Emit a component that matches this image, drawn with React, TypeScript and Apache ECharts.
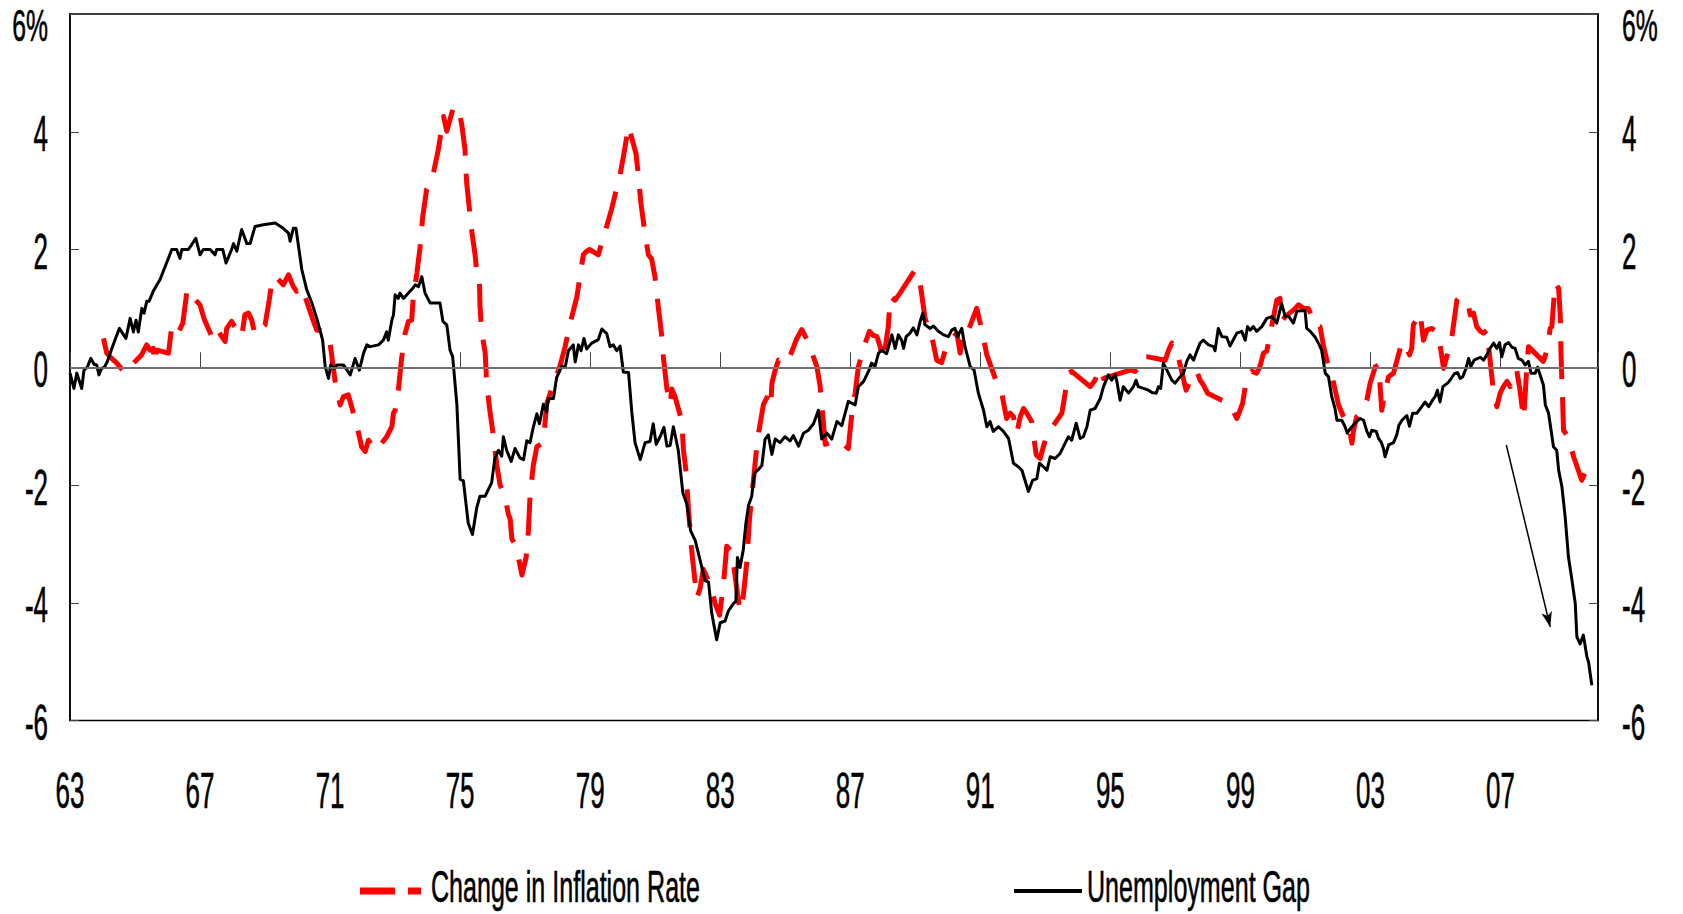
import React, { useEffect, useRef } from 'react';
import * as echarts from 'echarts';

// ---------- axes ----------
const BASE_YEAR = 1963;
const END_YEAR = 2010;
const yTickValues = [-6, -4, -2, 0, 2, 4, 6];
const yTickLabels = ['-6', '-4', '-2', '0', '2', '4', '6%'];
const xTickYears = [1963, 1967, 1971, 1975, 1979, 1983, 1987, 1991, 1995, 1999, 2003, 2007];
const xTickLabels = ['63', '67', '71', '75', '79', '83', '87', '91', '95', '99', '03', '07'];

const seriesNames = ['Change in Inflation Rate', 'Unemployment Gap'];

// ---------- Unemployment Gap (black) ----------
const gapYears = [
  1963.0, 1963.12, 1963.21, 1963.36, 1963.43, 1963.53, 1963.64, 1963.74, 1963.82, 1963.89, 1963.97,
  1964.06, 1964.15, 1964.23, 1964.38, 1964.52, 1964.72, 1964.85, 1964.95, 1965.03, 1965.1, 1965.21,
  1965.28, 1965.36, 1965.43, 1965.56, 1965.77, 1965.97, 1966.13, 1966.28, 1966.38, 1966.44, 1966.64,
  1966.74, 1966.87, 1967.0, 1967.1, 1967.31, 1967.46, 1967.51, 1967.7, 1967.8, 1967.97, 1968.03,
  1968.13, 1968.28, 1968.44, 1968.54, 1968.69, 1968.95, 1969.31, 1969.56, 1969.72, 1969.77, 1969.87,
  1969.95, 1970.03, 1970.13, 1970.28, 1970.44, 1970.59, 1970.69, 1970.77, 1970.85, 1970.95, 1971.02,
  1971.12, 1971.21, 1971.41, 1971.62, 1971.77, 1971.9, 1972.03, 1972.13, 1972.23, 1972.49, 1972.64,
  1972.74, 1972.79, 1972.9, 1972.95, 1973.0, 1973.1, 1973.15, 1973.26, 1973.41, 1973.51, 1973.62,
  1973.72, 1973.82, 1973.92, 1974.08, 1974.38, 1974.47, 1974.59, 1974.69, 1974.77, 1974.9, 1975.0,
  1975.1, 1975.25, 1975.38, 1975.51, 1975.61, 1975.77, 1975.97, 1976.07, 1976.18, 1976.28, 1976.33,
  1976.43, 1976.57, 1976.69, 1976.84, 1976.95, 1977.05, 1977.15, 1977.25, 1977.36, 1977.44, 1977.56,
  1977.66, 1977.71, 1977.87, 1977.97, 1978.13, 1978.23, 1978.33, 1978.48, 1978.54, 1978.64, 1978.72,
  1978.81, 1978.89, 1979.05, 1979.25, 1979.36, 1979.51, 1979.61, 1979.71, 1979.82, 1979.92, 1980.02,
  1980.18, 1980.28, 1980.38, 1980.54, 1980.69, 1980.84, 1980.94, 1981.03, 1981.15, 1981.27, 1981.36,
  1981.46, 1981.56, 1981.71, 1981.85, 1981.97, 1982.09, 1982.23, 1982.36, 1982.53, 1982.64, 1982.74,
  1982.89, 1983.0, 1983.15, 1983.25, 1983.41, 1983.48, 1983.53, 1983.61, 1983.71, 1983.79, 1983.87,
  1983.97, 1984.05, 1984.17, 1984.28, 1984.38, 1984.48, 1984.59, 1984.69, 1984.84, 1984.99, 1985.15,
  1985.25, 1985.41, 1985.56, 1985.71, 1985.87, 1986.02, 1986.12, 1986.28, 1986.43, 1986.59, 1986.74,
  1986.94, 1987.15, 1987.25, 1987.41, 1987.56, 1987.66, 1987.76, 1987.87, 1987.97, 1988.12, 1988.28,
  1988.38, 1988.48, 1988.58, 1988.64, 1988.72, 1988.84, 1988.94, 1989.05, 1989.15, 1989.23, 1989.3,
  1989.46, 1989.56, 1989.71, 1989.87, 1990.02, 1990.12, 1990.22, 1990.3, 1990.43, 1990.53, 1990.69,
  1990.81, 1990.94, 1991.1, 1991.2, 1991.3, 1991.4, 1991.56, 1991.71, 1991.87, 1992.02, 1992.17,
  1992.28, 1992.48, 1992.61, 1992.74, 1992.82, 1992.94, 1993.05, 1993.15, 1993.3, 1993.46, 1993.61,
  1993.71, 1993.81, 1993.95, 1994.07, 1994.17, 1994.28, 1994.38, 1994.53, 1994.69, 1994.79, 1994.94,
  1995.04, 1995.15, 1995.2, 1995.3, 1995.4, 1995.56, 1995.71, 1995.79, 1995.86, 1996.02, 1996.17,
  1996.28, 1996.41, 1996.48, 1996.55, 1996.63, 1996.74, 1996.89, 1996.99, 1997.15, 1997.25, 1997.35,
  1997.45, 1997.56, 1997.66, 1997.76, 1997.86, 1998.02, 1998.17, 1998.22, 1998.32, 1998.43, 1998.58,
  1998.68, 1998.89, 1999.04, 1999.15, 1999.22, 1999.3, 1999.4, 1999.5, 1999.66, 1999.81, 1999.97,
  2000.12, 2000.27, 2000.38, 2000.48, 2000.63, 2000.74, 2000.84, 2000.99, 2001.04, 2001.15, 2001.3,
  2001.4, 2001.5, 2001.61, 2001.71, 2001.81, 2001.91, 2001.97, 2002.12, 2002.22, 2002.29, 2002.38,
  2002.53, 2002.68, 2002.79, 2002.89, 2002.97, 2003.04, 2003.18, 2003.25, 2003.33, 2003.4, 2003.45,
  2003.56, 2003.71, 2003.81, 2003.88, 2003.97, 2004.12, 2004.2, 2004.3, 2004.43, 2004.58, 2004.68,
  2004.79, 2004.92, 2004.99, 2005.06, 2005.14, 2005.23, 2005.37, 2005.45, 2005.58, 2005.68, 2005.76,
  2005.84, 2005.94, 2006.02, 2006.09, 2006.19, 2006.38, 2006.48, 2006.58, 2006.68, 2006.79, 2006.89,
  2006.97, 2007.04, 2007.14, 2007.25, 2007.35, 2007.45, 2007.55, 2007.66, 2007.76, 2007.86, 2007.94,
  2008.07, 2008.14, 2008.22, 2008.32, 2008.38, 2008.48, 2008.63, 2008.73, 2008.79, 2008.89, 2008.99,
  2009.09, 2009.2, 2009.3, 2009.35, 2009.45, 2009.55, 2009.66, 2009.71, 2009.81,
];
const gapValues = [
  -0.1, -0.36, -0.1, -0.36, -0.05, 0.0, 0.15, 0.05, 0.04, -0.13, -0.02,
  0.0, 0.1, 0.23, 0.46, 0.66, 0.49, 0.83, 0.6, 0.8, 0.6, 1.0,
  0.92, 1.12, 1.12, 1.29, 1.49, 1.77, 2.0, 2.0, 1.85, 2.0, 2.0,
  2.08, 2.19, 1.91, 2.0, 2.0, 1.91, 2.0, 2.0, 1.77, 2.0, 2.1,
  1.97, 2.34, 2.1, 2.1, 2.39, 2.42, 2.45, 2.36, 2.28, 2.14, 2.36,
  2.36, 2.05, 1.66, 1.32, 1.09, 0.83, 0.63, 0.46, 0.01, -0.19, 0.04,
  -0.02, 0.04, 0.04, -0.13, 0.15, -0.05, 0.24, 0.38, 0.35, 0.38, 0.46,
  0.6, 0.46, 0.8, 0.89, 1.23, 1.17, 1.26, 1.17, 1.26, 1.32, 1.4,
  1.37, 1.54, 1.26, 1.09, 1.09, 0.78, 0.72, 0.29, 0.18, -0.63, -1.9,
  -1.93, -2.65, -2.84, -2.39, -2.19, -2.19, -1.96, -1.54, -1.41, -1.51, -1.18,
  -1.41, -1.6, -1.38, -1.54, -1.57, -1.25, -1.28, -1.02, -0.79, -0.96, -0.63,
  -0.76, -0.53, -0.53, -0.17, 0.02, 0.0, 0.28, 0.38, 0.09, 0.38, 0.28,
  0.49, 0.31, 0.41, 0.47, 0.65, 0.57, 0.35, 0.38, 0.28, 0.36, -0.08,
  -0.09, -0.76, -1.28, -1.57, -1.28, -1.26, -0.96, -1.31, -1.18, -1.02, -1.34,
  -1.33, -1.01, -1.41, -2.13, -2.32, -2.78, -2.94, -3.23, -3.62, -3.65, -4.18,
  -4.63, -4.34, -4.31, -4.14, -4.01, -3.98, -3.23, -3.4, -3.1, -2.65, -2.35,
  -2.19, -1.8, -1.74, -1.67, -1.22, -1.15, -1.48, -1.22, -1.28, -1.18, -1.25,
  -1.16, -1.34, -1.12, -1.07, -0.96, -0.73, -1.22, -1.12, -1.22, -0.92, -0.99,
  -0.58, -0.64, -0.33, -0.24, -0.07, 0.07, 0.01, 0.24, 0.29, 0.23, 0.55,
  0.32, 0.55, 0.46, 0.32, 0.52, 0.58, 0.67, 0.55, 0.78, 0.92, 0.72,
  0.66, 0.7, 0.61, 0.55, 0.52, 0.63, 0.66, 0.52, 0.66, 0.35, 0.01,
  -0.05, -0.44, -0.73, -1.01, -0.92, -1.09, -1.01, -1.09, -1.21, -1.63, -1.69,
  -1.75, -2.11, -1.92, -1.89, -1.63, -1.69, -1.75, -1.52, -1.55, -1.46, -1.29,
  -1.18, -1.24, -0.95, -1.21, -1.18, -1.01, -0.73, -0.7, -0.53, -0.33, -0.13,
  -0.22, -0.13, -0.24, -0.56, -0.33, -0.44, -0.33, -0.22, -0.33, -0.36, -0.39,
  -0.43, -0.44, -0.33, -0.36, 0.07, -0.05, -0.22, -0.27, -0.16, -0.1, 0.1,
  0.21, 0.12, 0.27, 0.41, 0.46, 0.38, 0.35, 0.28, 0.66, 0.52, 0.51,
  0.36, 0.58, 0.61, 0.46, 0.69, 0.63, 0.69, 0.61, 0.69, 0.83, 0.86,
  0.75, 1.08, 0.86, 0.87, 0.75, 0.95, 0.96, 0.96, 0.66, 0.61, 0.51,
  0.41, 0.29, -0.1, -0.16, -0.5, -0.7, -0.9, -0.9, -1.01, -1.12, -1.04,
  -0.95, -0.87, -0.9, -1.09, -1.18, -1.07, -1.09, -1.21, -1.27, -1.38, -1.52,
  -1.32, -1.28, -1.15, -0.98, -0.9, -0.82, -1.0, -0.78, -0.78, -0.67, -0.59,
  -0.67, -0.55, -0.5, -0.39, -0.59, -0.33, -0.27, -0.22, -0.11, -0.09, -0.19,
  -0.16, -0.02, 0.15, 0.01, 0.12, 0.17, 0.12, 0.21, 0.32, 0.41, 0.32,
  0.42, 0.18, 0.38, 0.42, 0.34, 0.32, 0.15, 0.12, 0.04, 0.1, -0.1,
  -0.1, 0.0, -0.13, -0.3, -0.64, -0.78, -1.35, -1.41, -1.75, -2.03, -2.54,
  -3.22, -3.62, -4.01, -4.58, -4.7, -4.55, -4.92, -5.01, -5.4,
];

// ---------- Change in Inflation Rate (red, dashed) ----------
const inflYears = [
  1964.03, 1964.13, 1964.28, 1964.44, 1964.69, 1964.79, 1965.2, 1965.36, 1965.46, 1965.56, 1965.59,
  1965.67, 1966.03, 1966.13, 1966.28, 1966.35, 1966.47, 1966.59, 1966.74, 1966.85, 1967.0, 1967.12,
  1967.41, 1967.56, 1967.67, 1967.77, 1967.82, 1967.97, 1968.03, 1968.28, 1968.38, 1968.49, 1968.59,
  1968.69, 1969.0, 1969.13, 1969.21, 1969.31, 1969.56, 1969.72, 1969.87, 1969.97, 1970.08, 1970.23,
  1970.49, 1970.59, 1970.69, 1970.85, 1971.0, 1971.15, 1971.31, 1971.41, 1971.56, 1971.82, 1971.97,
  1972.08, 1972.18, 1972.28, 1972.42, 1972.74, 1972.9, 1972.95, 1973.0, 1973.1, 1973.2, 1973.31,
  1973.41, 1973.51, 1973.56, 1973.67, 1973.77, 1973.85, 1973.97, 1974.13, 1974.18, 1974.33, 1974.49,
  1974.59, 1974.79, 1974.95, 1975.05, 1975.15, 1975.2, 1975.36, 1975.46, 1975.51, 1975.59, 1975.61,
  1975.66, 1975.77, 1975.82, 1975.92, 1976.02, 1976.13, 1976.23, 1976.38, 1976.48, 1976.54, 1976.59,
  1976.74, 1976.9, 1977.03, 1977.1, 1977.15, 1977.25, 1977.36, 1977.56, 1977.66, 1977.77, 1978.07,
  1978.23, 1978.38, 1978.59, 1978.69, 1978.79, 1978.89, 1978.98, 1979.25, 1979.46, 1979.66, 1979.92,
  1980.02, 1980.18, 1980.41, 1980.48, 1980.56, 1980.69, 1980.79, 1980.89, 1980.99, 1981.1, 1981.2,
  1981.25, 1981.36, 1981.46, 1981.51, 1981.61, 1981.82, 1981.87, 1981.95, 1982.02, 1982.12, 1982.23,
  1982.28, 1982.38, 1982.48, 1982.74, 1982.84, 1982.98, 1983.1, 1983.2, 1983.36, 1983.51, 1983.61,
  1983.71, 1983.82, 1983.9, 1984.02, 1984.1, 1984.17, 1984.33, 1984.48, 1984.56, 1984.59, 1984.69,
  1984.79, 1984.89, 1984.99, 1985.1, 1985.35, 1985.51, 1985.66, 1985.97, 1986.07, 1986.15, 1986.23,
  1986.38, 1986.59, 1986.74, 1986.94, 1987.05, 1987.15, 1987.25, 1987.36, 1987.46, 1987.59, 1987.71,
  1987.82, 1987.92, 1988.02, 1988.17, 1988.23, 1988.38, 1988.53, 1988.99, 1989.15, 1989.25, 1989.3,
  1989.51, 1989.66, 1989.81, 1989.97, 1990.28, 1990.38, 1990.48, 1990.58, 1990.89, 1991.05, 1991.2,
  1991.51, 1991.66, 1991.76, 1991.81, 1991.92, 1992.02, 1992.12, 1992.23, 1992.33, 1992.43, 1992.58,
  1992.72, 1992.84, 1992.94, 1993.05, 1993.51, 1993.61, 1993.71, 1993.81, 1994.38, 1994.53, 1994.66,
  1994.79, 1995.61, 1995.76, 1995.92, 1996.0, 1996.12, 1996.69, 1996.79, 1996.89, 1996.99, 1997.1,
  1997.33, 1997.45, 1997.56, 1997.66, 1997.76, 1997.86, 1997.99, 1998.43, 1998.58, 1998.74, 1998.89,
  1998.99, 1999.07, 1999.2, 1999.35, 1999.5, 1999.6, 1999.71, 1999.81, 2000.12, 2000.22, 2000.27,
  2000.38, 2000.63, 2000.79, 2000.94, 2001.09, 2001.2, 2001.25, 2001.45, 2001.56, 2001.66, 2001.81,
  2002.02, 2002.17, 2002.27, 2002.38, 2002.43, 2002.48, 2002.58, 2002.68, 2002.89, 2002.99, 2003.15,
  2003.25, 2003.35, 2003.45, 2003.56, 2003.71, 2003.97, 2004.12, 2004.2, 2004.27, 2004.32, 2004.53,
  2004.63, 2004.74, 2004.89, 2005.09, 2005.25, 2005.5, 2005.66, 2005.76, 2005.86, 2006.02, 2006.07,
  2006.17, 2006.27, 2006.38, 2006.48, 2006.58, 2006.68, 2006.79, 2006.89, 2006.99, 2007.09, 2007.2,
  2007.3, 2007.5, 2007.6, 2007.71, 2007.76, 2007.81, 2007.86, 2008.32, 2008.43, 2008.53, 2008.58,
  2008.68, 2008.79, 2008.84, 2008.86, 2008.89, 2008.91, 2008.94, 2009.04, 2009.14, 2009.25, 2009.5,
  2009.61, 2009.66,
];
const inflValues = [
  0.49, 0.24, 0.15, 0.07, -0.1, -0.02, 0.21, 0.38, 0.29, 0.32, 0.07,
  0.29, 0.24, 0.69, 0.72, 0.61, 0.75, 1.26, 1.32, 1.15, 1.06, 0.83,
  0.46, 0.61, 0.52, 0.44, 0.66, 0.78, 0.72, 0.52, 0.89, 0.92, 0.8,
  0.55, 0.72, 1.15, 1.46, 1.55, 1.4, 1.57, 1.37, 1.29, 1.37, 1.2,
  0.78, 0.63, 0.63, 0.58, 0.41, -0.22, -0.64, -0.5, -0.47, -0.98, -1.35,
  -1.43, -1.24, -1.32, -1.41, -1.18, -1.01, -0.78, -0.73, -0.39, 0.15, 0.58,
  0.78, 0.8, 1.2, 1.6, 2.05, 2.56, 3.02, 3.16, 3.3, 3.7, 4.26,
  4.01, 4.41, 4.41, 4.12, 3.7, 3.14, 2.3, 1.91, 1.62, 1.58, 1.06,
  0.61, 0.25, -0.31, -0.76, -1.15, -1.67, -2.0, -2.19, -2.49, -2.58, -2.91,
  -3.07, -3.53, -3.23, -2.78, -2.19, -1.67, -1.35, -1.28, -0.63, -0.44, 0.02,
  0.35, 0.74, 1.19, 1.55, 1.91, 1.97, 2.0, 1.91, 2.3, 2.69, 3.27,
  3.57, 4.09, 3.63, 3.27, 2.79, 2.26, 1.91, 1.84, 1.55, 1.0, 0.54,
  0.18, -0.37, -0.63, -0.37, -0.5, -0.92, -1.41, -1.77, -2.39, -3.1, -3.66,
  -3.92, -3.76, -3.43, -3.76, -4.01, -4.21, -3.69, -3.04, -3.14, -3.76, -4.14,
  -3.89, -3.3, -2.58, -1.93, -1.48, -1.15, -0.63, -0.47, -0.63, -0.27, -0.05,
  0.12, 0.09, 0.15, 0.12, 0.48, 0.64, 0.48, 0.02, -0.31, -0.79, -1.31,
  -1.28, -1.25, -1.28, -1.38, -0.78, -0.44, 0.01, 0.22, 0.41, 0.61, 0.54,
  0.52, 0.35, 0.12, 0.69, 1.2, 1.14, 1.26, 1.65, 1.43, 1.03, 0.83,
  0.52, 0.12, 0.08, 0.38, 0.58, 0.24, 0.58, 0.55, 1.0, 0.63, 0.21,
  -0.27, -0.44, -0.73, -0.87, -0.78, -0.84, -1.12, -0.84, -0.7, -0.78, -0.92,
  -1.49, -1.55, -1.35, -1.15, -0.78, -0.44, -0.1, -0.07, -0.33, -0.22, -0.02,
  -0.19, -0.05, -0.07, 0.01, 0.18, 0.18, 0.12, 0.29, 0.41, 0.24, 0.15,
  -0.39, -0.24, -0.19, -0.07, -0.22, -0.3, -0.44, -0.56, -0.59, -0.7, -0.87,
  -0.73, -0.61, -0.16, -0.07, -0.1, 0.01, 0.24, 0.27, 1.14, 1.17, 0.78,
  0.86, 0.97, 1.06, 1.0, 1.0, 0.86, 0.72, 0.69, 0.35, 0.12, -0.13,
  -0.64, -0.84, -0.95, -1.12, -1.29, -1.07, -0.84, -0.78, -0.56, -0.27, 0.01,
  0.04, -0.73, -0.39, -0.16, -0.1, 0.43, 0.32, 0.21, 0.32, 0.72, 0.92,
  0.46, 0.63, 0.66, 0.58, -0.02, 0.49, 1.14, 1.2, 1.14, 1.03, 0.89,
  0.92, 0.69, 0.61, 0.58, 0.63, 0.12, -0.44, -0.67, -0.44, -0.33, -0.24,
  -0.33, -0.05, -0.39, -0.87, -0.47, 0.01, 0.35, 0.1, 0.29, 0.66, 0.69,
  1.43, 1.34, 0.86, 0.29, -0.27, -0.53, -1.07, -1.15, -1.29, -1.52, -1.92,
  -1.78, -1.92,
];

// annotation arrow (data coordinates: year, value)
const arrowFrom = [2007.18, -1.32];
const arrowTo = [2008.53, -4.41];

const FONT = '"Liberation Sans", Arial, Helvetica, sans-serif';
const AXIS_FONT_SIZE = 50;
const AXIS_SQUEEZE = 0.52;
const TOP_FONT_SIZE = 45;
const TOP_SQUEEZE = 0.55;
const LEGEND_FONT_SIZE = 44;
const LEGEND_SQUEEZE = 0.57;

const toData = (years: number[], values: number[]) =>
  years.map((yr, i) => [yr - BASE_YEAR, values[i]]);

function textEl(text: string, x: number, y: number, align: string, size: number, squeeze: number) {
  return {
    type: 'text',
    x,
    y,
    scaleX: squeeze,
    silent: true,
    z: 100,
    style: {
      text,
      fontSize: size,
      fontFamily: FONT,
      fill: '#000',
      stroke: '#000',
      lineWidth: 0.6,
      align,
      verticalAlign: 'middle',
      textAlign: align,
      textVerticalAlign: 'middle',
    },
  };
}

export default function App() {
  const ref = useRef<HTMLDivElement>(null);

  useEffect(() => {
    const el = ref.current;
    if (!el) return;
    const chart = echarts.init(el, undefined, { renderer: 'svg' });

    const axisLine = { show: true, lineStyle: { color: '#000', width: 1.5 } };
    const yAxisBase = {
      type: 'value',
      min: -6,
      max: 6,
      interval: 2,
      axisLine,
      axisTick: { show: true, inside: true, length: 9, lineStyle: { color: '#444', width: 1 } },
      axisLabel: { show: false },
      splitLine: { show: false },
    };

    const option: any = {
      animation: false,
      backgroundColor: '#fff',
      grid: {
        left: 70,
        right: 85,
        top: 14,
        bottom: 193.5,
        show: true,
        borderColor: '#000',
        borderWidth: 1.5,
        backgroundColor: 'transparent',
      },
      xAxis: {
        type: 'value',
        min: 0,
        max: END_YEAR - BASE_YEAR,
        interval: 4,
        axisLine,
        axisTick: { show: true, inside: true, length: 15, lineStyle: { color: '#444', width: 1 } },
        axisLabel: { show: false },
        splitLine: { show: false },
      },
      yAxis: [
        { ...yAxisBase, position: 'left' },
        { ...yAxisBase, position: 'right' },
      ],
      series: [
        {
          name: 'zero',
          type: 'line',
          data: [],
          silent: true,
          z: 1,
          markLine: {
            silent: true,
            symbol: 'none',
            label: { show: false },
            lineStyle: { color: '#808080', width: 1.5, type: 'solid' },
            emphasis: { disabled: true },
            data: [{ yAxis: 0 }],
          },
        },
        {
          name: seriesNames[0],
          type: 'line',
          data: toData(inflYears, inflValues),
          symbol: 'none',
          showSymbol: false,
          z: 2,
          lineStyle: { color: '#ff0000', width: 5, type: [38, 18], cap: 'butt', join: 'round' },
          emphasis: { disabled: true },
        },
        {
          name: seriesNames[1],
          type: 'line',
          data: toData(gapYears, gapValues),
          symbol: 'none',
          showSymbol: false,
          z: 3,
          lineStyle: { color: '#000', width: 3, join: 'round' },
          emphasis: { disabled: true },
          markLine: {
            silent: true,
            symbol: ['none', 'arrow'],
            symbolSize: [8, 15],
            label: { show: false },
            lineStyle: { color: '#000', width: 1.5, type: 'solid' },
            emphasis: { disabled: true },
            data: [
              [
                { coord: [arrowFrom[0] - BASE_YEAR, arrowFrom[1]] },
                { coord: [arrowTo[0] - BASE_YEAR, arrowTo[1]] },
              ],
            ],
          },
        },
      ],
    };

    chart.setOption(option);

    const toPx = (x: number, y: number) =>
      chart.convertToPixel({ xAxisIndex: 0, yAxisIndex: 0 }, [x, y]) as number[];
    const [leftPx] = toPx(0, 0);
    const [rightPx] = toPx(END_YEAR - BASE_YEAR, 0);
    const [, bottomPx] = toPx(0, -6);

    const graphics: any[] = [];
    yTickValues.forEach((v, i) => {
      const [, py] = toPx(0, v);
      const isTop = i === yTickValues.length - 1;
      const size = isTop ? TOP_FONT_SIZE : AXIS_FONT_SIZE;
      const squeeze = isTop ? TOP_SQUEEZE : AXIS_SQUEEZE;
      const dy = isTop ? 12 : 2;
      graphics.push(textEl(yTickLabels[i], leftPx - 22, py + dy, 'right', size, squeeze));
      graphics.push(textEl(yTickLabels[i], rightPx + 24, py + dy, 'left', size, squeeze));
    });
    xTickYears.forEach((yr, i) => {
      const [px] = toPx(yr - BASE_YEAR, 0);
      graphics.push(textEl(xTickLabels[i], px, bottomPx + 70, 'center', AXIS_FONT_SIZE, AXIS_SQUEEZE));
    });

    // legend
    const legendY = 891;
    const legendTextY = 887;
    graphics.push({
      type: 'line',
      silent: true,
      shape: { x1: 360, y1: legendY, x2: 395, y2: legendY },
      style: { stroke: '#ff0000', lineWidth: 7 },
    });
    graphics.push({
      type: 'line',
      silent: true,
      shape: { x1: 408, y1: legendY, x2: 421, y2: legendY },
      style: { stroke: '#ff0000', lineWidth: 7 },
    });
    graphics.push(textEl(seriesNames[0], 431, legendTextY, 'left', LEGEND_FONT_SIZE, LEGEND_SQUEEZE));
    graphics.push({
      type: 'line',
      silent: true,
      shape: { x1: 1014, y1: legendY, x2: 1082, y2: legendY },
      style: { stroke: '#000', lineWidth: 4 },
    });
    graphics.push(textEl(seriesNames[1], 1087, legendTextY, 'left', LEGEND_FONT_SIZE, LEGEND_SQUEEZE));

    chart.setOption({ graphic: graphics });

    return () => {
      chart.dispose();
    };
  }, []);

  return (
    <div
      ref={ref}
      style={{ position: 'fixed', left: 0, top: 0, width: 1683, height: 914, background: '#fff' }}
    />
  );
}
